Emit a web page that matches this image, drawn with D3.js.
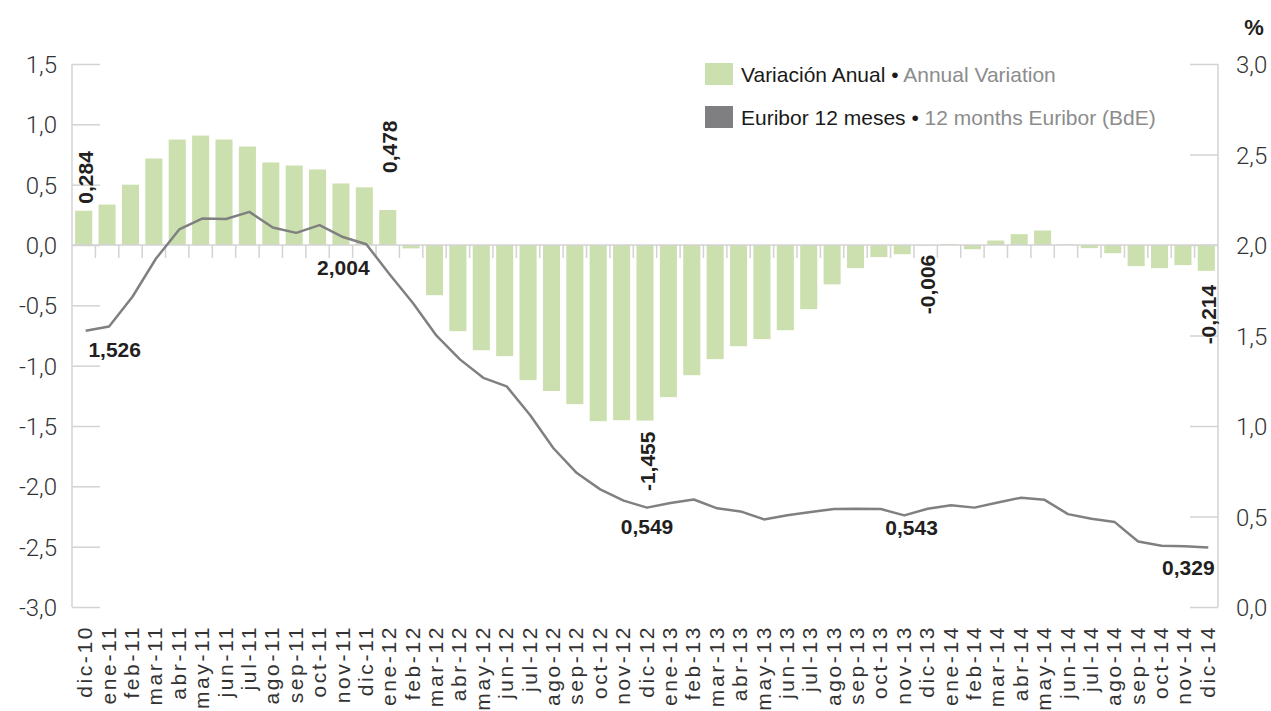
<!DOCTYPE html>
<html lang="es">
<head>
    <meta charset="UTF-8">
    <title>Variación anual y Euribor 12 meses</title>
    <style>
        body { margin: 0; background: #fff; }
        svg { display: block; }
        .tick-lbl { font-family: Roboto, "Liberation Sans", sans-serif; font-weight: 300; font-size: 24px; fill: #333; }
        .month-lbl { font-family: "Liberation Sans", Arial, sans-serif; font-size: 21px; letter-spacing: 2.6px; fill: #333; }
        .val-lbl { font-family: "Liberation Sans", Arial, sans-serif; font-weight: bold; font-size: 21px; fill: #231f20; }
        .legend { font-family: "Liberation Sans", Arial, sans-serif; font-size: 21px; }
    </style>
    <script src="https://cdnjs.cloudflare.com/ajax/libs/d3/7.8.5/d3.min.js"></script>
</head>
<body>
    <div id="chart"></div>

    <script>
        // meses
        const months = [
            'dic-10',
            'ene-11', 'feb-11', 'mar-11', 'abr-11', 'may-11', 'jun-11', 'jul-11', 'ago-11', 'sep-11', 'oct-11', 'nov-11', 'dic-11',
            'ene-12', 'feb-12', 'mar-12', 'abr-12', 'may-12', 'jun-12', 'jul-12', 'ago-12', 'sep-12', 'oct-12', 'nov-12', 'dic-12',
            'ene-13', 'feb-13', 'mar-13', 'abr-13', 'may-13', 'jun-13', 'jul-13', 'ago-13', 'sep-13', 'oct-13', 'nov-13', 'dic-13',
            'ene-14', 'feb-14', 'mar-14', 'abr-14', 'may-14', 'jun-14', 'jul-14', 'ago-14', 'sep-14', 'oct-14', 'nov-14', 'dic-14'
        ];

        // Variación anual (eje izquierdo)
        const variacion = [
            0.284,
            0.335, 0.500, 0.717, 0.874, 0.907, 0.874, 0.816, 0.684, 0.659, 0.626, 0.510, 0.478,
            0.290, -0.028, -0.416, -0.714, -0.872, -0.921, -1.120, -1.210, -1.319, -1.460, -1.452, -1.455,
            -1.261, -1.079, -0.946, -0.839, -0.780, -0.706, -0.532, -0.326, -0.192, -0.100, -0.076, -0.006,
            0.008, -0.035, 0.037, 0.090, 0.120, 0.006, -0.026, -0.068, -0.175, -0.192, -0.167, -0.214
        ];

        // Euribor 12 meses (eje derecho, %)
        const euribor = [
            1.526,
            1.550, 1.714, 1.924, 2.086, 2.147, 2.144, 2.183, 2.097, 2.067, 2.110, 2.044, 2.004,
            1.837, 1.678, 1.499, 1.368, 1.266, 1.219, 1.061, 0.877, 0.740, 0.650, 0.588, 0.549,
            0.575, 0.594, 0.545, 0.528, 0.484, 0.507, 0.525, 0.542, 0.543, 0.541, 0.506, 0.543,
            0.562, 0.549, 0.577, 0.604, 0.592, 0.513, 0.488, 0.469, 0.362, 0.338, 0.335, 0.329
        ];

        const leftTicks = [-3, -2.5, -2, -1.5, -1, -0.5, 0, 0.5, 1, 1.5];
        const rightTicks = [0, 0.5, 1, 1.5, 2, 2.5, 3];

        const width = 1271;
        const height = 711;
        const plot = {left: 72, right: 1218, top: 64, bottom: 607};

        const es = d3.formatLocale({decimal: ',', thousands: '.', grouping: [3], currency: ['', '€'], minus: '-'});
        const f1 = es.format('.1f');
        const f3 = es.format('.3f');

        const svg = d3.select('#chart')
            .append('svg')
            .attr('width', width)
            .attr('height', height);

        const pad = 0.27;
        const x = d3.scaleBand()
            .domain(months)
            .range([plot.left, plot.right])
            .paddingInner(pad)
            .paddingOuter(pad / 2);

        const yL = d3.scaleLinear().domain([-3, 1.5]).range([plot.bottom, plot.top]);
        const yR = d3.scaleLinear().domain([0, 3]).range([plot.bottom, plot.top]);

        const cx = m => x(m) + x.bandwidth() / 2;
        const axisColor = '#d3d3d3';

        // eje izquierdo
        const gL = svg.append('g')
            .attr('transform', `translate(${plot.left + 28},0)`)
            .call(d3.axisLeft(yL).tickValues(leftTicks).tickFormat(f1).tickSizeInner(28).tickSizeOuter(0).tickPadding(15));
        gL.select('.domain').remove();
        gL.selectAll('line').attr('stroke', axisColor).attr('stroke-width', 1.5);
        gL.selectAll('text').attr('class', 'tick-lbl').attr('dy', '0.36em');

        // eje derecho
        const gR = svg.append('g')
            .attr('transform', `translate(${plot.right - 28},0)`)
            .call(d3.axisRight(yR).tickValues(rightTicks).tickFormat(f1).tickSizeInner(28).tickSizeOuter(0).tickPadding(18));
        gR.select('.domain').remove();
        gR.selectAll('line').attr('stroke', axisColor).attr('stroke-width', 1.5);
        gR.selectAll('text').attr('class', 'tick-lbl').attr('dy', '0.36em');

        svg.append('text')
            .attr('x', 1254).attr('y', 35)
            .attr('text-anchor', 'middle')
            .attr('class', 'val-lbl')
            .style('font-size', '22px')
            .text('%');

        // barras
        svg.append('g')
            .selectAll('rect')
            .data(months)
            .enter()
            .append('rect')
            .attr('x', m => x(m))
            .attr('width', x.bandwidth())
            .attr('y', (m, i) => yL(Math.max(0, variacion[i])))
            .attr('height', (m, i) => Math.abs(yL(variacion[i]) - yL(0)))
            .attr('fill', '#cbe0ae');

        // líneas de ejes
        svg.append('line')
            .attr('x1', plot.left).attr('x2', plot.left)
            .attr('y1', plot.top).attr('y2', plot.bottom)
            .attr('stroke', axisColor).attr('stroke-width', 1.5);
        svg.append('line')
            .attr('x1', plot.right).attr('x2', plot.right)
            .attr('y1', plot.top).attr('y2', plot.bottom)
            .attr('stroke', axisColor).attr('stroke-width', 1.5);
        svg.append('line')
            .attr('x1', plot.left).attr('x2', plot.right)
            .attr('y1', yL(0)).attr('y2', yL(0))
            .attr('stroke', axisColor).attr('stroke-width', 1.5);

        // marcas entre meses
        svg.append('g')
            .selectAll('line')
            .data(months.slice(1))
            .enter()
            .append('line')
            .attr('x1', m => x(m) - x.step() * pad / 2)
            .attr('x2', m => x(m) - x.step() * pad / 2)
            .attr('y1', yL(0))
            .attr('y2', yL(0) + 13)
            .attr('stroke', axisColor)
            .attr('stroke-width', 1.5);

        // etiquetas de meses
        svg.append('g')
            .selectAll('text')
            .data(months)
            .enter()
            .append('text')
            .attr('class', 'month-lbl')
            .attr('transform', m => `translate(${cx(m) + 1},${625}) rotate(-90)`)
            .attr('text-anchor', 'end')
            .attr('dy', '0.36em')
            .text(m => m);

        // línea Euribor
        const line = d3.line()
            .x((v, i) => cx(months[i]) + 2)
            .y(v => yR(v));

        svg.append('path')
            .datum(euribor)
            .attr('fill', 'none')
            .attr('stroke', '#808080')
            .attr('stroke-width', 2.5)
            .attr('stroke-linejoin', 'round')
            .attr('d', line);

        // etiquetas de valores de barras (verticales)
        const idx = m => months.indexOf(m);
        const barLabels = [
            {at: 'dic-10', src: 'dic-10', gap: 7},
            {at: 'ene-12', src: 'dic-11', gap: 37},
            {at: 'dic-12', src: 'dic-12', gap: 11},
            {at: 'dic-13', src: 'dic-13', gap: 9},
            {at: 'dic-14', src: 'dic-14', gap: 14}
        ];
        svg.append('g')
            .selectAll('text')
            .data(barLabels)
            .enter()
            .append('text')
            .attr('class', 'val-lbl')
            .attr('transform', d => {
                const v = variacion[idx(d.src)];
                const yy = v >= 0 ? yL(variacion[idx(d.at)]) - d.gap : yL(v) + d.gap;
                return `translate(${cx(d.at) + 2},${yy}) rotate(-90)`;
            })
            .attr('text-anchor', d => variacion[idx(d.src)] >= 0 ? 'start' : 'end')
            .attr('dy', '0.36em')
            .text(d => f3(variacion[idx(d.src)]));

        // etiquetas Euribor
        const lineLabels = [
            {src: 'dic-10', dx: 31, dy: 26},
            {src: 'dic-11', dx: -21, dy: 31},
            {src: 'dic-12', dx: 2, dy: 26},
            {src: 'dic-13', dx: -14, dy: 26},
            {src: 'dic-14', dx: -18, dy: 28}
        ];
        svg.append('g')
            .selectAll('text')
            .data(lineLabels)
            .enter()
            .append('text')
            .attr('class', 'val-lbl')
            .attr('text-anchor', 'middle')
            .attr('x', d => cx(d.src) + d.dx)
            .attr('y', d => yR(euribor[idx(d.src)]) + d.dy)
            .text(d => f3(euribor[idx(d.src)]));

        // leyenda
        const legendItems = [
            {color: '#cbe0ae', es: 'Variación Anual', en: 'Annual Variation'},
            {color: '#7f7f82', es: 'Euribor 12 meses', en: '12 months Euribor (BdE)'}
        ];
        const lg = svg.append('g').attr('class', 'legend');
        legendItems.forEach((d, i) => {
            const yy = 63 + i * 43;
            lg.append('rect')
                .attr('x', 705).attr('y', yy)
                .attr('width', 28).attr('height', 22)
                .attr('fill', d.color);
            const t = lg.append('text')
                .attr('x', 741).attr('y', yy + 19);
            t.append('tspan').attr('fill', '#1a1a1a').text(d.es + ' • ');
            t.append('tspan').attr('fill', '#8c8c8c').text(d.en);
        });
    </script>
</body>
</html>
